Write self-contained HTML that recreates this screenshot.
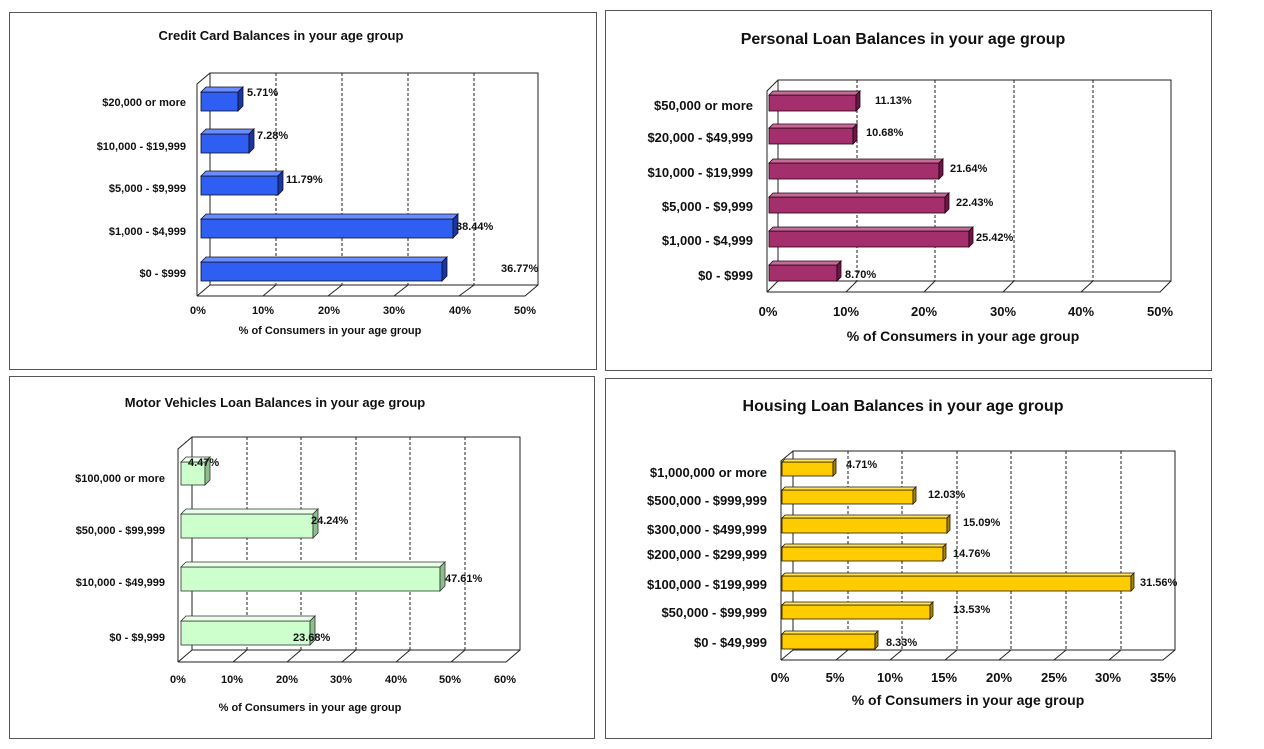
<!DOCTYPE html>
<html><head><meta charset="utf-8"><style>
html,body{margin:0;padding:0;background:#fff;}
svg{display:block;font-family:"Liberation Sans",Arial,sans-serif;font-weight:bold;}
</style></head><body>
<svg width="1264" height="749" viewBox="0 0 1264 749" xmlns="http://www.w3.org/2000/svg">
<rect width="1264" height="749" fill="#fff"/>
<!-- panels -->
<rect x="9.5" y="12.5" width="587" height="357" fill="none" stroke="#555"/>
<rect x="605.5" y="10.5" width="606" height="360" fill="none" stroke="#555"/>
<rect x="9.5" y="376.5" width="585" height="362" fill="none" stroke="#555"/>
<rect x="605.5" y="378.5" width="606" height="360" fill="none" stroke="#555"/>

<!-- ===== Chart 1 ===== -->
<text x="281" y="40" font-size="13" text-anchor="middle" fill="#111">Credit Card Balances in your age group</text>
<g stroke="#222" fill="none">
<polyline points="197,296 197,84 210,73 538,73 538,285 525,296 197,296"/>
<polyline points="210,73 210,285 538,285"/>
<line x1="197" y1="296" x2="210" y2="285"/>
<g stroke-dasharray="3,2"><line x1="276" y1="73" x2="276" y2="285"/><line x1="342" y1="73" x2="342" y2="285"/><line x1="408" y1="73" x2="408" y2="285"/><line x1="474" y1="73" x2="474" y2="285"/></g>
<line x1="263" y1="296" x2="276" y2="285"/><line x1="328" y1="296" x2="342" y2="285"/><line x1="394" y1="296" x2="408" y2="285"/><line x1="459" y1="296" x2="474" y2="285"/>
</g>
<g stroke="#112" stroke-width="0.8">
<g><rect x="201" y="92" width="37" height="19" fill="#2e5ef2"/><polygon points="201,92 206,87 243,87 238,92" fill="#6a8cff"/><polygon points="238,92 243,87 243,106 238,111" fill="#1a36a0"/></g>
<g><rect x="201" y="134" width="48" height="19" fill="#2e5ef2"/><polygon points="201,134 206,129 254,129 249,134" fill="#6a8cff"/><polygon points="249,134 254,129 254,148 249,153" fill="#1a36a0"/></g>
<g><rect x="201" y="176" width="77" height="19" fill="#2e5ef2"/><polygon points="201,176 206,171 283,171 278,176" fill="#6a8cff"/><polygon points="278,176 283,171 283,190 278,195" fill="#1a36a0"/></g>
<g><rect x="201" y="219" width="252" height="19" fill="#2e5ef2"/><polygon points="201,219 206,214 458,214 453,219" fill="#6a8cff"/><polygon points="453,219 458,214 458,233 453,238" fill="#1a36a0"/></g>
<g><rect x="201" y="262" width="241" height="19" fill="#2e5ef2"/><polygon points="201,262 206,257 447,257 442,262" fill="#6a8cff"/><polygon points="442,262 447,257 447,276 442,281" fill="#1a36a0"/></g>
</g>
<g font-size="11" fill="#111">
<text x="247" y="96">5.71%</text><text x="257" y="139">7.28%</text><text x="286" y="183">11.79%</text><text x="456" y="230">38.44%</text><text x="501" y="272">36.77%</text>
</g>
<g font-size="11" fill="#111" text-anchor="end">
<text x="186" y="106">$20,000 or more</text><text x="186" y="150">$10,000 - $19,999</text><text x="186" y="192">$5,000 - $9,999</text><text x="186" y="235">$1,000 - $4,999</text><text x="186" y="277">$0 - $999</text>
</g>
<g font-size="11" fill="#111" text-anchor="middle">
<text x="198" y="314">0%</text><text x="263" y="314">10%</text><text x="329" y="314">20%</text><text x="394" y="314">30%</text><text x="460" y="314">40%</text><text x="525" y="314">50%</text>
<text x="330" y="334">% of Consumers in your age group</text>
</g>

<!-- ===== Chart 2 ===== -->
<text x="903" y="44" font-size="16" text-anchor="middle" fill="#111">Personal Loan Balances in your age group</text>
<g stroke="#222" fill="none">
<polyline points="767,292 767,91 778,80 1171,80 1171,281 1160,292 767,292"/>
<polyline points="778,80 778,281 1171,281"/>
<line x1="767" y1="292" x2="778" y2="281"/>
<g stroke-dasharray="3,2"><line x1="857" y1="80" x2="857" y2="281"/><line x1="935" y1="80" x2="935" y2="281"/><line x1="1014" y1="80" x2="1014" y2="281"/><line x1="1093" y1="80" x2="1093" y2="281"/></g>
<line x1="846" y1="292" x2="857" y2="281"/><line x1="924" y1="292" x2="935" y2="281"/><line x1="1003" y1="292" x2="1014" y2="281"/><line x1="1081" y1="292" x2="1093" y2="281"/>
</g>
<g stroke="#201" stroke-width="0.8">
<g><rect x="769" y="95" width="87" height="16" fill="#a3306c"/><polygon points="769,95 773,91 860,91 856,95" fill="#c86a98"/><polygon points="856,95 860,91 860,107 856,111" fill="#6a1844"/></g>
<g><rect x="769" y="128" width="84" height="16" fill="#a3306c"/><polygon points="769,128 773,124 857,124 853,128" fill="#c86a98"/><polygon points="853,128 857,124 857,140 853,144" fill="#6a1844"/></g>
<g><rect x="769" y="163" width="170" height="16" fill="#a3306c"/><polygon points="769,163 773,159 943,159 939,163" fill="#c86a98"/><polygon points="939,163 943,159 943,175 939,179" fill="#6a1844"/></g>
<g><rect x="769" y="197" width="176" height="16" fill="#a3306c"/><polygon points="769,197 773,193 949,193 945,197" fill="#c86a98"/><polygon points="945,197 949,193 949,209 945,213" fill="#6a1844"/></g>
<g><rect x="769" y="231" width="200" height="16" fill="#a3306c"/><polygon points="769,231 773,227 973,227 969,231" fill="#c86a98"/><polygon points="969,231 973,227 973,243 969,247" fill="#6a1844"/></g>
<g><rect x="769" y="265" width="68" height="16" fill="#a3306c"/><polygon points="769,265 773,261 841,261 837,265" fill="#c86a98"/><polygon points="837,265 841,261 841,277 837,281" fill="#6a1844"/></g>
</g>
<g font-size="11" fill="#111">
<text x="875" y="104">11.13%</text><text x="866" y="136">10.68%</text><text x="950" y="172">21.64%</text><text x="956" y="206">22.43%</text><text x="976" y="241">25.42%</text><text x="845" y="278">8.70%</text>
</g>
<g font-size="13" fill="#111" text-anchor="end">
<text x="753" y="110">$50,000 or more</text><text x="753" y="142">$20,000 - $49,999</text><text x="753" y="177">$10,000 - $19,999</text><text x="753" y="211">$5,000 - $9,999</text><text x="753" y="245">$1,000 - $4,999</text><text x="753" y="280">$0 - $999</text>
</g>
<g font-size="13" fill="#111" text-anchor="middle">
<text x="768" y="316">0%</text><text x="846" y="316">10%</text><text x="924" y="316">20%</text><text x="1003" y="316">30%</text><text x="1081" y="316">40%</text><text x="1160" y="316">50%</text>
<text x="963" y="341" font-size="14">% of Consumers in your age group</text>
</g>

<!-- ===== Chart 3 ===== -->
<text x="275" y="407" font-size="13" text-anchor="middle" fill="#111">Motor Vehicles Loan Balances in your age group</text>
<g stroke="#222" fill="none">
<polyline points="178,662 178,449 192,437 520,437 520,650 506,662 178,662"/>
<polyline points="192,437 192,650 520,650"/>
<line x1="178" y1="662" x2="192" y2="650"/>
<g stroke-dasharray="3,2"><line x1="247" y1="437" x2="247" y2="650"/><line x1="301" y1="437" x2="301" y2="650"/><line x1="356" y1="437" x2="356" y2="650"/><line x1="410" y1="437" x2="410" y2="650"/><line x1="465" y1="437" x2="465" y2="650"/></g>
<line x1="233" y1="662" x2="247" y2="650"/><line x1="287" y1="662" x2="301" y2="650"/><line x1="342" y1="662" x2="356" y2="650"/><line x1="396" y1="662" x2="410" y2="650"/><line x1="451" y1="662" x2="465" y2="650"/>
</g>
<g stroke="#333" stroke-width="0.8">
<g><rect x="181" y="462" width="24" height="23" fill="#ccffcc"/><polygon points="181,462 186,457 210,457 205,462" fill="#eaffea"/><polygon points="205,462 210,457 210,480 205,485" fill="#8cbf8c"/></g>
<g><rect x="181" y="514" width="132" height="24" fill="#ccffcc"/><polygon points="181,514 186,509 318,509 313,514" fill="#eaffea"/><polygon points="313,514 318,509 318,533 313,538" fill="#8cbf8c"/></g>
<g><rect x="181" y="567" width="259" height="24" fill="#ccffcc"/><polygon points="181,567 186,562 445,562 440,567" fill="#eaffea"/><polygon points="440,567 445,562 445,586 440,591" fill="#8cbf8c"/></g>
<g><rect x="181" y="621" width="129" height="24" fill="#ccffcc"/><polygon points="181,621 186,616 315,616 310,621" fill="#eaffea"/><polygon points="310,621 315,616 315,640 310,645" fill="#8cbf8c"/></g>
</g>
<g font-size="11" fill="#111">
<text x="188" y="466">4.47%</text><text x="311" y="524">24.24%</text><text x="445" y="582">47.61%</text><text x="293" y="641">23.68%</text>
</g>
<g font-size="11" fill="#111" text-anchor="end">
<text x="165" y="482">$100,000 or more</text><text x="165" y="534">$50,000 - $99,999</text><text x="165" y="586">$10,000 - $49,999</text><text x="165" y="641">$0 - $9,999</text>
</g>
<g font-size="11" fill="#111" text-anchor="middle">
<text x="178" y="683">0%</text><text x="232" y="683">10%</text><text x="287" y="683">20%</text><text x="341" y="683">30%</text><text x="396" y="683">40%</text><text x="450" y="683">50%</text><text x="505" y="683">60%</text>
<text x="310" y="711">% of Consumers in your age group</text>
</g>

<!-- ===== Chart 4 ===== -->
<text x="903" y="411" font-size="16" text-anchor="middle" fill="#111">Housing Loan Balances in your age group</text>
<g stroke="#222" fill="none">
<polyline points="781,660 781,461 793,451 1175,451 1175,650 1163,660 781,660"/>
<polyline points="793,451 793,650 1175,650"/>
<line x1="781" y1="660" x2="793" y2="650"/>
<g stroke-dasharray="3,2"><line x1="848" y1="451" x2="848" y2="650"/><line x1="902" y1="451" x2="902" y2="650"/><line x1="957" y1="451" x2="957" y2="650"/><line x1="1011" y1="451" x2="1011" y2="650"/><line x1="1066" y1="451" x2="1066" y2="650"/><line x1="1121" y1="451" x2="1121" y2="650"/></g>
<line x1="836" y1="660" x2="848" y2="650"/><line x1="890" y1="660" x2="902" y2="650"/><line x1="945" y1="660" x2="957" y2="650"/><line x1="999" y1="660" x2="1011" y2="650"/><line x1="1054" y1="660" x2="1066" y2="650"/><line x1="1109" y1="660" x2="1121" y2="650"/>
</g>
<g stroke="#221a00" stroke-width="0.8">
<g><rect x="782" y="462" width="51" height="14" fill="#ffcc00"/><polygon points="782,462 785,459 836,459 833,462" fill="#ffe45c"/><polygon points="833,462 836,459 836,473 833,476" fill="#a88400"/></g>
<g><rect x="782" y="490" width="131" height="14" fill="#ffcc00"/><polygon points="782,490 785,487 916,487 913,490" fill="#ffe45c"/><polygon points="913,490 916,487 916,501 913,504" fill="#a88400"/></g>
<g><rect x="782" y="518" width="165" height="15" fill="#ffcc00"/><polygon points="782,518 785,515 950,515 947,518" fill="#ffe45c"/><polygon points="947,518 950,515 950,530 947,533" fill="#a88400"/></g>
<g><rect x="782" y="547" width="161" height="14" fill="#ffcc00"/><polygon points="782,547 785,544 946,544 943,547" fill="#ffe45c"/><polygon points="943,547 946,544 946,558 943,561" fill="#a88400"/></g>
<g><rect x="782" y="576" width="349" height="15" fill="#ffcc00"/><polygon points="782,576 785,573 1134,573 1131,576" fill="#ffe45c"/><polygon points="1131,576 1134,573 1134,588 1131,591" fill="#a88400"/></g>
<g><rect x="782" y="605" width="148" height="14" fill="#ffcc00"/><polygon points="782,605 785,602 933,602 930,605" fill="#ffe45c"/><polygon points="930,605 933,602 933,616 930,619" fill="#a88400"/></g>
<g><rect x="782" y="634" width="93" height="15" fill="#ffcc00"/><polygon points="782,634 785,631 878,631 875,634" fill="#ffe45c"/><polygon points="875,634 878,631 878,646 875,649" fill="#a88400"/></g>
</g>
<g font-size="11" fill="#111">
<text x="846" y="468">4.71%</text><text x="928" y="498">12.03%</text><text x="963" y="526">15.09%</text><text x="953" y="557">14.76%</text><text x="1140" y="586">31.56%</text><text x="953" y="613">13.53%</text><text x="886" y="646">8.33%</text>
</g>
<g font-size="13" fill="#111" text-anchor="end">
<text x="767" y="477">$1,000,000 or more</text><text x="767" y="505">$500,000 - $999,999</text><text x="767" y="534">$300,000 - $499,999</text><text x="767" y="559">$200,000 - $299,999</text><text x="767" y="589">$100,000 - $199,999</text><text x="767" y="617">$50,000 - $99,999</text><text x="767" y="647">$0 - $49,999</text>
</g>
<g font-size="13" fill="#111" text-anchor="middle">
<text x="780" y="682">0%</text><text x="835" y="682">5%</text><text x="890" y="682">10%</text><text x="944" y="682">15%</text><text x="999" y="682">20%</text><text x="1054" y="682">25%</text><text x="1108" y="682">30%</text><text x="1163" y="682">35%</text>
<text x="968" y="705" font-size="14">% of Consumers in your age group</text>
</g>
</svg>
</body></html>
